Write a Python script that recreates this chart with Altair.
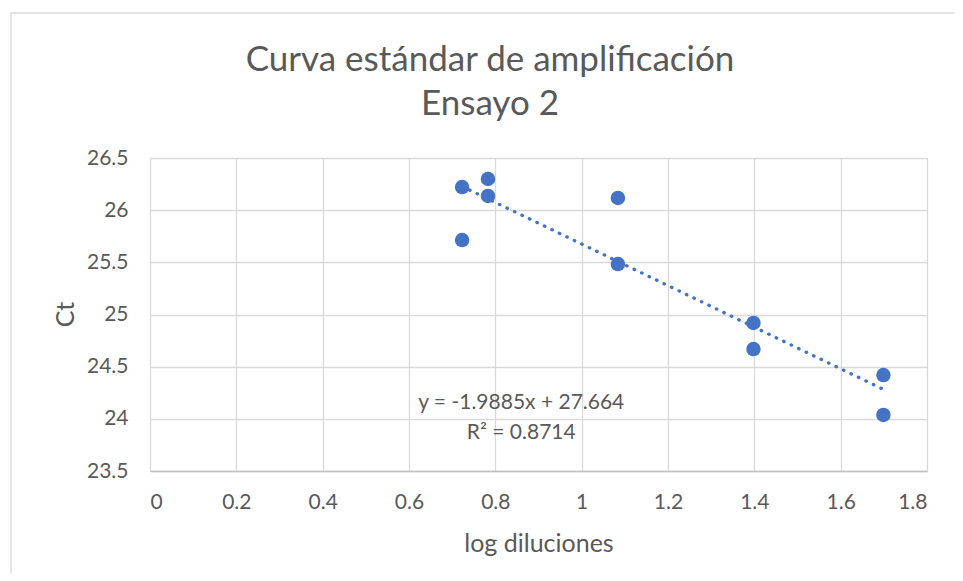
import altair as alt
import pandas as pd

# ---- data ----
log_diluciones = [0.723, 0.723, 0.783, 0.783, 1.084, 1.084, 1.398, 1.398, 1.699, 1.699]
ct_values = [26.222, 25.714, 26.299, 26.136, 26.117, 25.484, 24.919, 24.669, 24.420, 24.037]
x_ticks = [0, 0.2, 0.4, 0.6, 0.8, 1.0, 1.2, 1.4, 1.6, 1.8]
y_ticks = [23.5, 24.0, 24.5, 25.0, 25.5, 26.0, 26.5]
equation_lines = ["y = -1.9885x + 27.664", "R² = 0.8714"]
title_lines = ["Curva estándar de amplificación", "Ensayo 2"]

# annotation anchor (data coordinates)
eq_x = [0.86, 0.86]
eq_y = [24.152, 23.864]

FONT = "Lato"
GRAY = "#595959"
BLUE = "#4472C4"

df = pd.DataFrame({"x": log_diluciones, "y": ct_values})
eq_df = pd.DataFrame({"t": equation_lines, "x": eq_x, "y": eq_y})
title_df = pd.DataFrame({"t": ["\n".join(title_lines)]})

xscale = alt.Scale(domain=[0, 1.8], nice=False, zero=False)
yscale = alt.Scale(domain=[23.5, 26.5], nice=False, zero=False)

xaxis = alt.Axis(
    values=x_ticks, format="~g", title="log diluciones",
    grid=True, gridColor="#d9d9d9", gridWidth=1.3,
    domain=True, domainColor="#bfbfbf", domainWidth=1.5,
    ticks=False, labelPadding=20, labelFontSize=21, labelFont=FONT, labelColor=GRAY,
    titleFont=FONT, titleFontSize=25, titleColor=GRAY, titleFontWeight="normal",
    titleY=72, titleBaseline="middle",
)
yaxis = alt.Axis(
    values=y_ticks, format="~g", title="Ct",
    grid=True, gridColor="#d9d9d9", gridWidth=1.3,
    domain=False, ticks=False, labelPadding=22, labelFontSize=21, labelFont=FONT,
    labelColor=GRAY, titleFont=FONT, titleFontSize=25, titleColor=GRAY,
    titleFontWeight="normal", titleX=-85, titleY=156, titleBaseline="middle",
)

base = alt.Chart(df)

points = base.mark_circle(size=210, color=BLUE, opacity=1).encode(
    x=alt.X("x:Q", scale=xscale, axis=xaxis),
    y=alt.Y("y:Q", scale=yscale, axis=yaxis),
)

trend = base.transform_regression("x", "y", method="linear").mark_line(
    color=BLUE, strokeWidth=3.3, strokeCap="round", strokeDash=[0.5, 7.8]
).encode(x=alt.X("x:Q", scale=xscale), y=alt.Y("y:Q", scale=yscale))

eq = alt.Chart(eq_df).mark_text(font=FONT, fontSize=21, color=GRAY, align="center", baseline="middle").encode(
    x=alt.X("x:Q", scale=xscale), y=alt.Y("y:Q", scale=yscale), text="t:N"
)

# chart title (two centred lines above the plot area)
title = alt.Chart(title_df).mark_text(
    font=FONT, fontSize=35, color=GRAY, align="center", baseline="middle",
    lineBreak="\n", lineHeight=44,
).encode(x=alt.value(340), y=alt.value(-98), text="t:N")

border = alt.Chart(pd.DataFrame({"a": [0]})).mark_rect(
    fill=None, stroke="#d9d9d9", strokeWidth=1.3
).encode(x=alt.value(-139), y=alt.value(-145), x2=alt.value(900), y2=alt.value(500))

chart = alt.layer(border, trend, points, eq, title).properties(
    width=777, height=313,
    autosize=alt.AutoSizeParams(type="none"),
    padding={"left": 142, "top": 150, "right": 28, "bottom": 102},
).configure_view(stroke=None).configure(background="white")

chart.save("out.html", embed_options={"renderer": "svg", "actions": False})
